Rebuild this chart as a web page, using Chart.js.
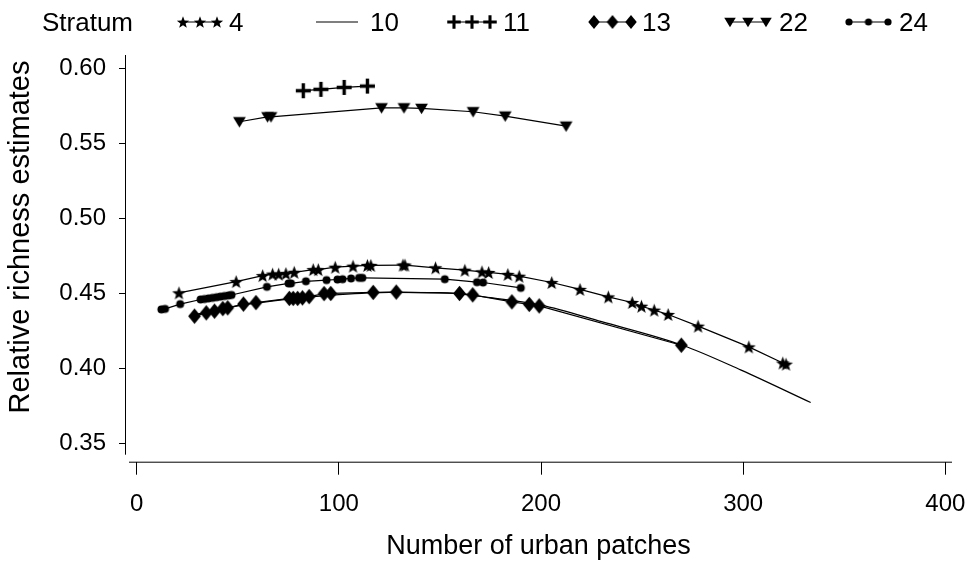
<!DOCTYPE html>
<html>
<head>
<meta charset="utf-8">
<script src="https://cdn.jsdelivr.net/npm/chart.js@4.4.1/dist/chart.umd.min.js"></script>
<style>
  html, body { margin: 0; padding: 0; background: #fff; }
</style>
</head>
<body>
<canvas id="myChart" width="967" height="563"></canvas>
<script>
// valores (x = parches urbanos, y = riqueza relativa)
var s4x = [20.9, 49.2, 62.3, 67.2, 70.2, 73.8, 77.9, 87.3, 89.8, 98.2, 107.0, 114.1, 115.8, 131.7, 132.7, 147.8, 162.3, 170.8, 174.1, 183.6, 189.2, 205.3, 219.3, 233.3, 245.1, 249.7, 256.0, 262.9, 277.7, 302.8, 319.6, 321.2];
var s4y = [0.4502, 0.4577, 0.4617, 0.4627, 0.4627, 0.4631, 0.4639, 0.4657, 0.4657, 0.4673, 0.4680, 0.4685, 0.4685, 0.4687, 0.4687, 0.4669, 0.4653, 0.4642, 0.4638, 0.4625, 0.4613, 0.4571, 0.4525, 0.4475, 0.4438, 0.4413, 0.4387, 0.4358, 0.4280, 0.4142, 0.4035, 0.4027];

var s10x = [28, 50, 75, 100, 125, 150, 175, 200, 230, 270, 299, 333.4];
var s10y = [0.4355, 0.4415, 0.4460, 0.4490, 0.4505, 0.4503, 0.4470, 0.4420, 0.4310, 0.4153, 0.3987, 0.3771];

var s11x = [82.4, 91.1, 102.6, 114.1];
var s11y = [0.5849, 0.5858, 0.5871, 0.5880];

var s13x = [28.6, 34.4, 38.5, 42.6, 45.0, 52.8, 59.0, 75.5, 77.4, 79.6, 82.0, 85.3, 92.7, 96.0, 117.0, 128.4, 159.7, 166.2, 185.6, 194.2, 199.1, 269.4];
var s13y = [0.4347, 0.4369, 0.4380, 0.4397, 0.4402, 0.4427, 0.4437, 0.4465, 0.4465, 0.4465, 0.4469, 0.4477, 0.4497, 0.4498, 0.4505, 0.4507, 0.4498, 0.4489, 0.4442, 0.4425, 0.4415, 0.4153];

var s22x = [50.8, 64.7, 66.4, 121.1, 132.2, 140.9, 166.4, 182.3, 212.4];
var s22y = [0.5642, 0.5675, 0.5675, 0.5735, 0.5735, 0.5731, 0.5709, 0.5680, 0.5613];

var s24x = [12.2, 14.0, 21.5, 31.6, 33.5, 35.5, 37.5, 39.5, 41.4, 43.4, 45.4, 46.9, 64.4, 75.1, 76.3, 83.7, 93.9, 99.3, 101.8, 106.0, 110.0, 111.6, 152.4, 168.3, 171.3, 190.0];
var s24y = [0.4392, 0.4395, 0.4427, 0.4458, 0.4461, 0.4465, 0.4469, 0.4473, 0.4477, 0.4481, 0.4485, 0.4488, 0.4542, 0.4565, 0.4565, 0.4579, 0.4587, 0.4591, 0.4593, 0.4598, 0.4602, 0.4602, 0.4593, 0.4573, 0.4571, 0.4535];

var strata = ["4", "10", "11", "13", "22", "24"];
var xTicks = [0, 100, 200, 300, 400];
var yTicks = [0.35, 0.40, 0.45, 0.50, 0.55, 0.60];

var fuente = '"Liberation Sans", Arial, Helvetica, sans-serif';

function pts(xs, ys) {
  return xs.map(function(x, i) { return {x: x, y: ys[i]}; });
}

// dibuja un simbolo negro en un canvas pequeño, k = escala
function marca(tipo, k) {
  var c = document.createElement('canvas');
  var s = Math.ceil(19 * k);
  c.width = s; c.height = s;
  var g = c.getContext('2d');
  var m = s / 2;
  g.fillStyle = '#000'; g.strokeStyle = '#000';
  g.beginPath();
  if (tipo == 'star') {
    for (var i = 0; i < 10; i++) {
      var r = i % 2 ? 3.0 * k : 7.2 * k;
      var a = -Math.PI / 2 + i * Math.PI / 5;
      g.lineTo(m + r * Math.cos(a), m + 0.7 * k + r * Math.sin(a));
    }
    g.closePath(); g.fill();
  } else if (tipo == 'plus') {
    g.lineWidth = 3.4 * k;
    g.moveTo(m - 7.5 * k, m); g.lineTo(m + 7.5 * k, m);
    g.moveTo(m, m - 7.5 * k); g.lineTo(m, m + 7.5 * k);
    g.stroke();
  } else if (tipo == 'diamond') {
    g.moveTo(m, m - 7.8 * k); g.lineTo(m + 6.4 * k, m); g.lineTo(m, m + 7.8 * k); g.lineTo(m - 6.4 * k, m);
    g.closePath(); g.fill();
  } else if (tipo == 'tri') {
    g.moveTo(m - 6.4 * k, m - 4.7 * k); g.lineTo(m + 6.4 * k, m - 4.7 * k); g.lineTo(m, m + 5.7 * k);
    g.closePath(); g.fill();
  } else if (tipo == 'dot') {
    g.arc(m, m, 4.0 * k, 0, Math.PI * 2); g.fill();
  }
  return c;
}

function serie(lbl, xs, ys, tipo) {
  return {
    label: lbl,
    data: pts(xs, ys),
    showLine: true,
    borderColor: '#000',
    backgroundColor: '#000',
    borderWidth: 1.2,
    pointStyle: tipo ? marca(tipo, 1) : false,
    pointRadius: tipo ? 5 : 0,
    legendMark: tipo ? marca(tipo, 0.9) : null
  };
}

var datasets = [
  serie(strata[0], s4x, s4y, 'star'),
  serie(strata[1], s10x, s10y, null),
  serie(strata[2], s11x, s11y, 'plus'),
  serie(strata[3], s13x, s13y, 'diamond'),
  serie(strata[4], s22x, s22y, 'tri'),
  serie(strata[5], s24x, s24y, 'dot')
];
datasets[1].cubicInterpolationMode = 'monotone';

// leyenda de una fila arriba y titulo del eje y
var leyenda = {
  id: 'leyenda',
  afterDraw: function(chart) {
    var ctx = chart.ctx;
    var pos = [[183, 217, 229], [316, 358, 370], [454, 490, 503], [594, 631, 642], [730, 766, 779], [849, 888, 899]];
    ctx.save();
    ctx.fillStyle = '#000';
    ctx.strokeStyle = '#000';
    ctx.textBaseline = 'middle';
    ctx.font = '26px ' + fuente;
    ctx.fillText('Stratum', 42, 24);
    chart.data.datasets.forEach(function(ds, i) {
      var p = pos[i], y = 22;
      ctx.lineWidth = 1.2;
      ctx.beginPath(); ctx.moveTo(p[0], y); ctx.lineTo(p[1], y); ctx.stroke();
      if (ds.legendMark) {
        var mk = ds.legendMark;
        [p[0], (p[0] + p[1]) / 2, p[1]].forEach(function(x) {
          ctx.drawImage(mk, x - mk.width / 2, y - mk.height / 2);
        });
      }
      ctx.fillText(ds.label, p[2], 24);
    });
    ctx.translate(21, 237);
    ctx.rotate(-Math.PI / 2);
    ctx.textAlign = 'center';
    ctx.font = '29px ' + fuente;
    ctx.fillText('Relative richness estimates', 0, 0);
    ctx.restore();
  }
};

// ejes separados, estilo R
var ejes = {
  id: 'ejes',
  beforeDatasetsDraw: function(chart) {
    var a = chart.chartArea, ctx = chart.ctx;
    ctx.save();
    ctx.strokeStyle = '#000';
    ctx.lineWidth = 1;
    ctx.beginPath();
    ctx.moveTo(a.left + 0.5, a.top); ctx.lineTo(a.left + 0.5, a.bottom - 7);
    ctx.moveTo(a.left + 4, a.bottom + 0.5); ctx.lineTo(a.right, a.bottom + 0.5);
    ctx.stroke();
    ctx.restore();
  }
};

var ctx = document.getElementById('myChart').getContext('2d');
var myChart = new Chart(ctx, {
  type: 'scatter',
  data: { datasets: datasets },
  options: {
    responsive: false,
    animation: false,
    layout: { padding: { top: 55, right: 15, left: 0, bottom: 0 } },
    plugins: { legend: { display: false }, tooltip: { enabled: false } },
    scales: {
      x: {
        type: 'linear',
        min: -5.8,
        max: 403.3,
        afterFit: function(s) { s.height = 101.3; s.paddingLeft = 0; s.paddingRight = 0; },
        afterBuildTicks: function(s) { s.ticks = xTicks.map(function(v) { return {value: v}; }); },
        grid: { drawOnChartArea: false, drawTicks: true, tickLength: 13, color: '#000' },
        border: { display: false },
        ticks: { color: '#000', padding: 15, font: { family: fuente, size: 24 }, maxRotation: 0,
                 callback: function(v) { return String(v); } },
        title: { display: true, text: 'Number of urban patches', color: '#000',
                 font: { family: fuente, size: 27 }, padding: { top: 0, bottom: 0 } }
      },
      y: {
        type: 'linear',
        min: 0.3377,
        max: 0.6087,
        afterFit: function(s) { s.width = 125; s.paddingTop = 0; s.paddingBottom = 0; },
        afterBuildTicks: function(s) { s.ticks = yTicks.map(function(v) { return {value: v}; }); },
        grid: { drawOnChartArea: false, drawTicks: true, tickLength: 6, color: '#000' },
        border: { display: false },
        ticks: { color: '#000', padding: 13, font: { family: fuente, size: 24 },
                 callback: function(v) { return Number(v).toFixed(2); } }
      }
    }
  },
  plugins: [ejes, leyenda]
});
</script>
</body>
</html>
